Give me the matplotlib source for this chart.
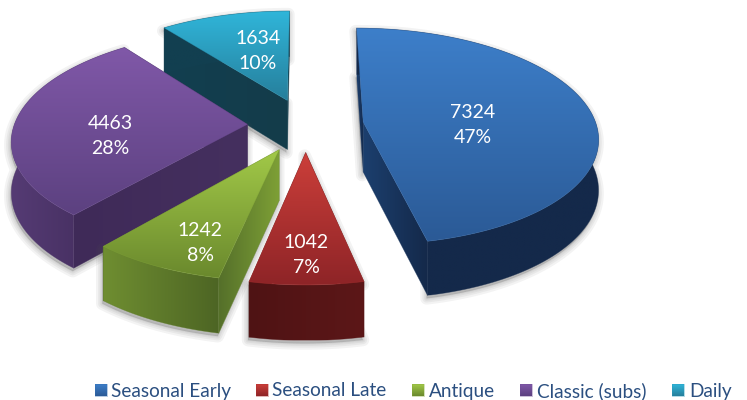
import numpy as np
import matplotlib
matplotlib.use("Agg")
import matplotlib.pyplot as plt
from matplotlib.colors import to_rgb
from matplotlib.patches import Polygon

# ---- data ----
categories = ["Seasonal Early", "Seasonal Late", "Antique", "Classic (subs)", "Daily"]
values = [7324, 1042, 1242, 4463, 1634]

# ---- style ----
top_colors = [("#3d7fca", "#2b5a96"), ("#cc3f3a", "#8e2427"), ("#a2c948", "#6a892d"),
              ("#8058a8", "#5c4180"), ("#30b6da", "#267f9c")]
cut_colors = [("#1c3f6e", "#14294a"), ("#571516", "#571516"), ("#55702a", "#7ea036"),
              ("#3f2a58", "#45305f"), ("#123f50", "#143c4a")]
arc_colors = [("#14294a", "#14294a"), ("#4f1314", "#5c1718"), ("#6f8e31", "#4d6524"),
              ("#553b74", "#3f2a58"), ("#123f50", "#123f50")]
label_xy = [(473, 125), (306, 255), (200, 243), (110, 136), (258, 51)]
legend_square_x = [95, 256, 412, 520, 672]
legend_text_x = [111, 272, 429, 537, 689]

CX, CY = 305.5, 125    # pie centre in pixels
RX, RY = 233, 107      # radii
PERSP = 0.131          # perspective strength
DEPTH, PERSP_Z = 50, 0.08
EXPLODE = 0.25

fig = plt.figure(figsize=(7.47, 4.0), dpi=100)
ax = fig.add_axes([0, 0, 1, 1])


def project(X, Y, z=0.0):
    s = 1 / (1 + PERSP * Y)
    sz = 1 / (1 + PERSP_Z * Y)
    return np.column_stack([CX + RX * X * s,
                            CY - RY * Y * s + z * DEPTH * sz])


def gradient_face(pts, c0, c1, vertical, z):
    pts = np.asarray(pts)
    c0, c1 = np.array(to_rgb(c0)), np.array(to_rgb(c1))
    t = np.linspace(0, 1, 128)[:, None]
    arr = c0 + (c1 - c0) * t
    arr = arr[:, None, :] if vertical else arr[None, :, :]
    l, r = pts[:, 0].min(), pts[:, 0].max()
    tp, b = pts[:, 1].min(), pts[:, 1].max()
    im = ax.imshow(arr, extent=[l, r, b, tp], origin="upper", aspect="auto",
                   interpolation="bilinear", zorder=z)
    clip = Polygon(pts, closed=True, transform=ax.transData, fc="none", ec="none")
    ax.add_patch(clip)
    im.set_clip_path(clip)
    mid = (c0 + c1) / 2
    ax.add_patch(Polygon(pts, closed=True, fc="none", ec=mid, lw=0.5, alpha=0.5,
                         zorder=z + 0.01, joinstyle="round"))


shares = np.array(values, dtype=float) / sum(values)
edges = np.concatenate([[0], np.cumsum(shares)]) * 2 * np.pi
draw_order = [4, 0, 3, 2, 1]

for n, i in enumerate(draw_order):
    a0, a1 = edges[i], edges[i + 1]
    mid = (a0 + a1) / 2
    ox, oy = EXPLODE * np.sin(mid), EXPLODE * np.cos(mid)
    th = np.linspace(a0, a1, 120)
    X, Y = ox + np.sin(th), oy + np.cos(th)
    top_arc = project(X, Y)
    bot_arc = project(X, Y, 1)
    apex_t = project(np.array([ox]), np.array([oy]))
    apex_b = project(np.array([ox]), np.array([oy]), 1)
    z = 10 + n * 10

    # soft shadow
    shadow_pts = np.vstack([apex_b, bot_arc, top_arc[::-1], apex_t]) + [-1, 3]
    for lw in (9, 6, 3.5, 1.5):
        ax.add_patch(Polygon(shadow_pts, closed=True, fc="#555555", ec="#555555",
                             lw=lw, alpha=0.07, zorder=z, joinstyle="round"))

    # cut faces, far one first
    cuts = [(Y[0], top_arc[0], bot_arc[0]), (Y[-1], top_arc[-1], bot_arc[-1])]
    cuts.sort(key=lambda c: -c[0])
    for k, (_, pt, pb) in enumerate(cuts):
        gradient_face([apex_t[0], pt, pb, apex_b[0]], *cut_colors[i], False, z + 1 + k)
    # outer rim
    gradient_face(np.vstack([top_arc, bot_arc[::-1]]), *arc_colors[i], False, z + 3)
    # top face
    gradient_face(np.vstack([apex_t, top_arc]), *top_colors[i], True, z + 4)

# data labels
for (lx, ly), v, sh in zip(label_xy, values, shares):
    ax.text(lx, ly, f"{v}\n{sh * 100:.0f}%", color="white", ha="center", va="center",
            family="Lato", fontsize=14, linespacing=1.6, zorder=100)

# legend
for i, name in enumerate(categories):
    sx = legend_square_x[i]
    sq = [(sx, 384), (sx + 12, 384), (sx + 12, 396), (sx, 396)]
    gradient_face(sq, *top_colors[i], True, 100)
    ax.text(legend_text_x[i], 391, name, color="#2b4f80", ha="left", va="center",
            family="Lato", fontsize=13.7, zorder=100)

ax.set_xlim(0, 747)
ax.set_ylim(400, 0)
ax.axis("off")
fig.savefig("out.png", dpi=100, facecolor="white")
